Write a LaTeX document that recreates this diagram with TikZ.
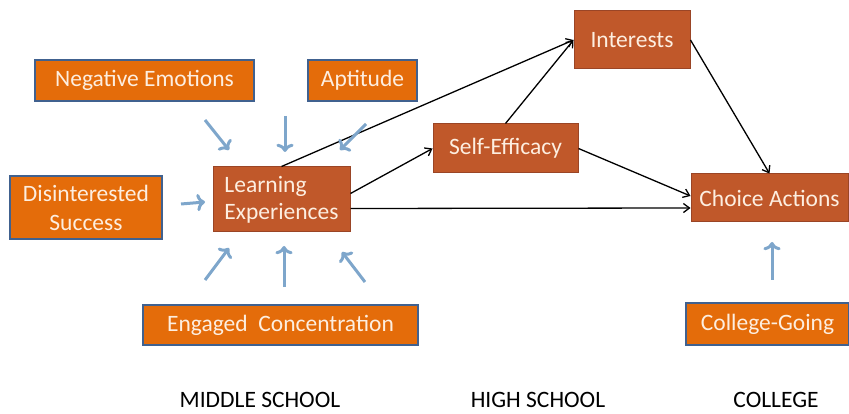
\documentclass[tikz,border=0pt]{standalone}
\usepackage{fontspec}
\setmainfont{Carlito}
\usepackage{xcolor}
\usepackage{tikz}
\usetikzlibrary{arrows.meta}

\definecolor{brightorange}{HTML}{E46C0A}
\definecolor{rust}{HTML}{C0582A}
\definecolor{rustedge}{HTML}{9A4526}
\definecolor{boxedge}{HTML}{40618F}
\definecolor{cream}{HTML}{FDEEE0}
\definecolor{hintblue}{HTML}{7EA6CB}

\tikzset{
  factor/.style={draw=boxedge, line width=1.5pt, fill=brightorange, text=cream, inner sep=0pt, font=\fontsize{23.5}{29}\selectfont},
  stage/.style={draw=rustedge, line width=1pt, fill=rust, text=cream, inner sep=0pt, font=\fontsize{23.5}{27}\selectfont},
  hint/.style={->, line width=3pt, draw=hintblue},
  path/.style={-{Straight Barb[length=6pt,width=9pt]}, line width=1.3pt, black},
  level/.style={anchor=base, inner sep=0pt, font=\fontsize{23.5}{28}\selectfont}
}

\begin{document}
\begin{tikzpicture}[x=1pt, y=-1pt]
        \useasboundingbox (0,0) rectangle (849,414);

        % outside factors
        \node[factor, minimum width=219pt, minimum height=41pt] (neg) at (144.5,80.5) {Negative Emotions};
        \node[factor, minimum width=109pt, minimum height=41pt] (apt) at (362.5,80.5) {Aptitude};
        \node[factor, minimum width=152pt, minimum height=63pt, align=center] (dis) at (86,207.5) {Disinterested\\Success};
        \node[factor, minimum width=275pt, minimum height=40pt] (eng) at (280.5,325) {Engaged\ \ Concentration};
        \node[factor, minimum width=163pt, minimum height=42pt] (col) at (767.5,324) {College-Going};

        % model
        \node[stage, minimum width=137pt, minimum height=65pt, align=left] (learn) at (281.5,199.5) {Learning\\Experiences};
        \node[stage, minimum width=145pt, minimum height=49pt] (eff) at (505.5,148.5) {Self-Efficacy};
        \node[stage, minimum width=116pt, minimum height=58pt] (int) at (632,40) {Interests};
        \node[stage, minimum width=157pt, minimum height=48pt] (act) at (769.5,198) {Choice Actions};

        \draw[path] (learn.north) -- (int.west);
        \draw[path] ([yshift=6pt]learn.east) -- (eff.west);
        \draw[path] ([yshift=-9pt]learn.east) -- ([yshift=-10pt]act.west);
        \draw[path] (eff.north) -- (int.west);
        \draw[path] (eff.east) -- ([yshift=2pt]act.west);
        \draw[path] (int.east) -- (act.north);

        % blue hints
        \coordinate (n1) at (205,120); \coordinate (n2) at (229,150);
        \coordinate (a1) at (285,116); \coordinate (a2) at (285,152);
        \coordinate (p1) at (366,124); \coordinate (p2) at (340,150);
        \coordinate (d1) at (181,204); \coordinate (d2) at (205,202);
        \coordinate (b1) at (205,280); \coordinate (b2) at (229,248);
        \coordinate (c1) at (284,287); \coordinate (c2) at (284,246);
        \coordinate (e1) at (365,282); \coordinate (e2) at (342,252);
        \coordinate (g1) at (772,280); \coordinate (g2) at (772,242);
        \draw[hint] (n1) -- (n2);
        \draw[hint] (a1) -- (a2);
        \draw[hint] (p1) -- (p2);
        \draw[hint] (d1) -- (d2);
        \draw[hint] (b1) -- (b2);
        \draw[hint] (c1) -- (c2);
        \draw[hint] (e1) -- (e2);
        \draw[hint] (g1) -- (g2);

        \node[level] (ms) at (260,407) {MIDDLE SCHOOL};
        \node[level] (hs) at (538,407) {HIGH SCHOOL};
        \node[level] (cl) at (776,407) {COLLEGE};
    \end{tikzpicture}
\end{document}
